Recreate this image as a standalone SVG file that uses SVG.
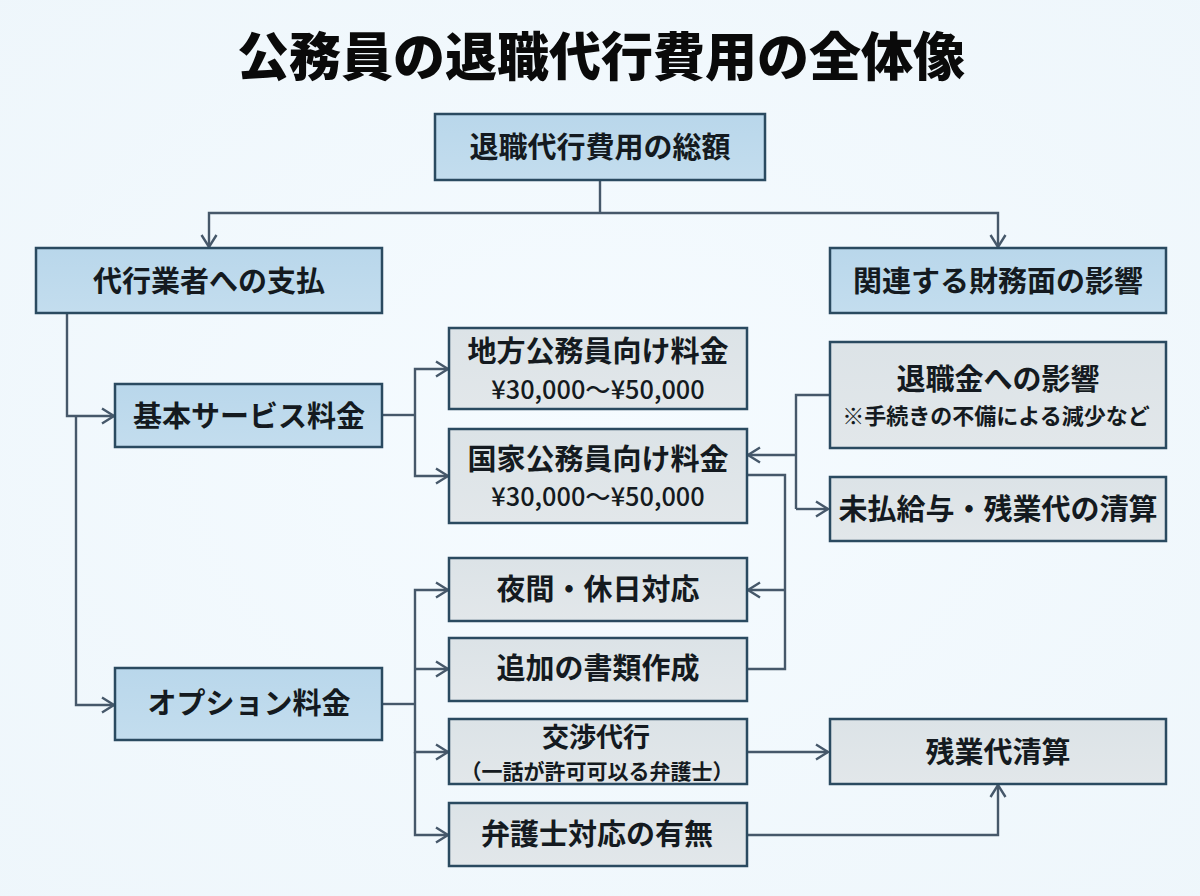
<svg xmlns="http://www.w3.org/2000/svg" width="1200" height="896" viewBox="0 0 1200 896">
<style>
text{font-family:"Noto Sans CJK JP","Noto Sans",sans-serif;font-weight:700;fill:#141a20;text-anchor:middle}
.b{fill:url(#blue);stroke:#2a4a60;stroke-width:2.5}
.g{fill:url(#gray);stroke:#2a4a60;stroke-width:2.5}
.c{fill:none;stroke:#46586a;stroke-width:2.4}
.a{marker-end:url(#ah)}
.t{font-size:29px}
.s{font-size:22px}
.m{font-size:25.3px;font-weight:500}
</style>
<defs>
<radialGradient id="bg" cx="0.5" cy="0.5" r="0.75"><stop offset="0" stop-color="#f5fbff"/><stop offset="1" stop-color="#eef6fb"/></radialGradient>
<linearGradient id="blue" x1="0" y1="0" x2="0" y2="1"><stop offset="0" stop-color="#b9d7eb"/><stop offset="1" stop-color="#c3ddee"/></linearGradient>
<linearGradient id="gray" x1="0" y1="0" x2="0" y2="1"><stop offset="0" stop-color="#dce3e7"/><stop offset="1" stop-color="#e2e7ea"/></linearGradient>
<marker id="ah" markerUnits="userSpaceOnUse" markerWidth="18" markerHeight="20" refX="15" refY="10" orient="auto"><path d="M3 2.5L15 10L3 17.5" fill="none" stroke="#46586a" stroke-width="2.4"/></marker>
</defs>
<rect width="1200" height="896" fill="url(#bg)"/>
<text id="title" x="601" y="76" style="font-size:52px;font-weight:900;fill:#0a0a0a">公務員の退職代行費用の全体像</text>
<g id="connectors">
<path class="c" d="M600 180V213"/>
<path class="c a" d="M600 213H209V247"/>
<path class="c a" d="M600 213H998V247"/>
<path class="c a" d="M67 313V416H114"/>
<path class="c a" d="M76 416V705H114"/>
<path class="c" d="M383 415H415"/>
<path class="c a" d="M415 415V369H448"/>
<path class="c a" d="M415 415V476H448"/>
<path class="c" d="M383 704H415"/>
<path class="c a" d="M415 704V590H448"/>
<path class="c a" d="M415 669H448"/>
<path class="c a" d="M415 704V752H448"/>
<path class="c a" d="M415 752V835H448"/>
<path class="c" d="M829 395H796V509"/>
<path class="c a" d="M796 455H748"/>
<path class="c a" d="M796 509H828"/>
<path class="c" d="M748 475H785V669H748"/>
<path class="c a" d="M785 590H748"/>
<path class="c a" d="M748 752H828"/>
<path class="c a" d="M748 835H998V785"/>
</g>
<g id="n-total"><rect class="b" x="435" y="114" width="330" height="66"/><text class="t" x="600" y="158">退職代行費用の総額</text></g>
<g id="n-agency"><rect class="b" x="36" y="248" width="346" height="65"/><text class="t" x="209" y="292">代行業者への支払</text></g>
<g id="n-finance"><rect class="b" x="830" y="248" width="336" height="65"/><text class="t" x="998" y="292">関連する財務面の影響</text></g>
<g id="n-basic"><rect class="b" x="115" y="384" width="267" height="63"/><text class="t" x="249" y="427">基本サービス料金</text></g>
<g id="n-option"><rect class="b" x="115" y="668" width="267" height="72"/><text class="t" x="249" y="714">オプション料金</text></g>
<g id="n-local"><rect class="g" x="449" y="328" width="298" height="81"/><text class="t" x="598" y="362">地方公務員向け料金</text><text class="m" x="598" y="399">¥30,000～¥50,000</text></g>
<g id="n-national"><rect class="g" x="449" y="429" width="298" height="94"/><text class="t" x="598" y="470">国家公務員向け料金</text><text class="m" x="598" y="506">¥30,000～¥50,000</text></g>
<g id="n-night"><rect class="g" x="449" y="558" width="298" height="63"/><text class="t" x="598" y="600">夜間・休日対応</text></g>
<g id="n-docs"><rect class="g" x="449" y="638" width="298" height="63"/><text class="t" x="598" y="679">追加の書類作成</text></g>
<g id="n-nego"><rect class="g" x="449" y="719" width="298" height="65"/><text style="font-size:27px" x="596" y="747">交渉代行</text><text style="font-size:21px" x="597" y="779">（一話が許可可以る弁護士）</text></g>
<g id="n-lawyer"><rect class="g" x="449" y="803" width="298" height="63"/><text class="t" x="597" y="845">弁護士対応の有無</text></g>
<g id="n-retire"><rect class="g" x="830" y="342" width="336" height="106"/><text class="t" x="998" y="390">退職金への影響</text><text class="s" x="996" y="424">※手続きの不備による減少など</text></g>
<g id="n-unpaid"><rect class="g" x="830" y="477" width="336" height="64"/><text class="t" x="998" y="520">未払給与・残業代の清算</text></g>
<g id="n-overtime"><rect class="g" x="830" y="719" width="336" height="65"/><text class="t" x="998" y="763">残業代清算</text></g>
</svg>
